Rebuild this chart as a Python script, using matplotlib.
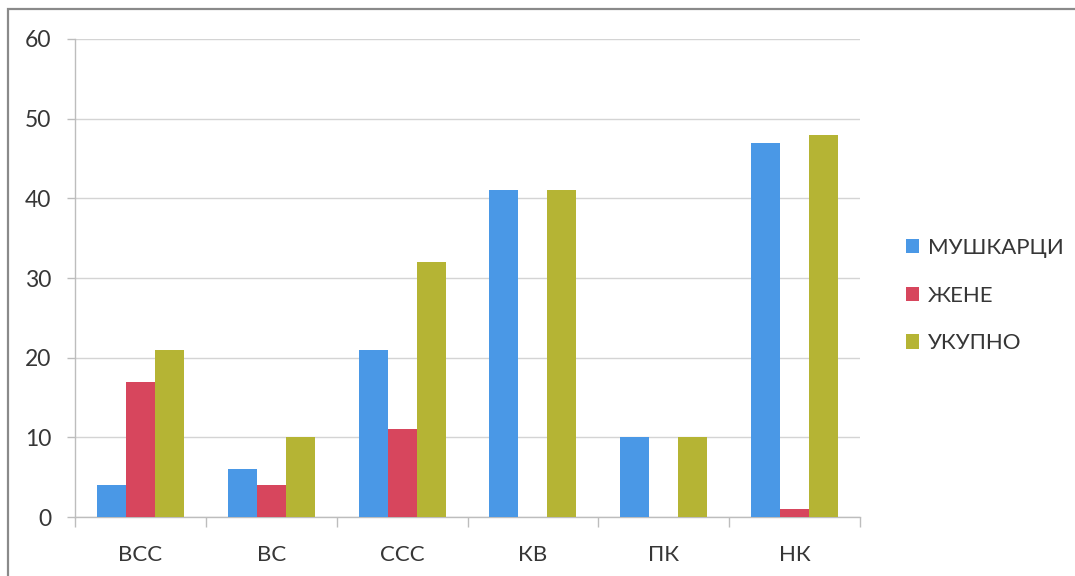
import matplotlib
matplotlib.use("Agg")
import matplotlib.pyplot as plt
from matplotlib.patches import Rectangle
import numpy as np

categories = ["ВСС", "ВС", "ССС", "КВ", "ПК", "НК"]
series_names = ["МУШКАРЦИ", "ЖЕНЕ", "УКУПНО"]
men = [4, 6, 21, 41, 10, 47]
women = [17, 4, 11, 0, 0, 1]
total = [21, 10, 32, 41, 10, 48]
y_ticks = [0, 10, 20, 30, 40, 50, 60]

colors = ["#4A98E6", "#D7465D", "#B5B434"]
text_color = "#363636"
grid_color = "#d4d4d4"

plt.rcParams["font.family"] = ["Lato", "DejaVu Sans"]

fig = plt.figure(figsize=(10.75, 5.76), dpi=100)
ax = fig.add_axes([0.0698, 0.1024, 0.7302, 0.8299])

x = np.arange(len(categories)) + 0.5
w = 0.222
for k, (vals, name) in enumerate(zip([men, women, total], series_names)):
    ax.bar(x + (k - 1) * w, vals, width=w, color=colors[k], label=name,
           zorder=3, linewidth=0)

ax.set_xlim(0, len(categories))
ax.set_ylim(0, 60)
ax.set_yticks(y_ticks)
ax.set_yticklabels([str(v) for v in y_ticks], fontsize=16.5, color=text_color)
ax.yaxis.grid(True, color=grid_color, linewidth=1.0, zorder=0)

# category boundaries carry the tick marks, centers carry the labels
ax.set_xticks(np.arange(len(categories) + 1))
ax.set_xticklabels([])
ax.set_xticks(x, minor=True)
ax.set_xticklabels(categories, minor=True, fontsize=16, color=text_color)
ax.tick_params(axis="x", which="major", length=7, color="#bdbdbd", width=1)
ax.tick_params(axis="x", which="minor", length=0, pad=20)
ax.tick_params(axis="y", length=6, color="#bdbdbd", width=1, pad=11)

for side in ["top", "right"]:
    ax.spines[side].set_visible(False)
for side in ["left", "bottom"]:
    ax.spines[side].set_color("#bdbdbd")
    ax.spines[side].set_linewidth(1)

leg = fig.legend(loc="upper left", bbox_to_anchor=(0.824, 0.622),
                 frameon=False, fontsize=16, handlelength=0.6,
                 handleheight=0.6, handletextpad=0.4, labelspacing=1.25)
for t in leg.get_texts():
    t.set_color(text_color)

# outer chart frame (runs past the right and bottom edges)
fig.patches.append(Rectangle((0.0072, -0.05), 1.1, 1.035,
                             transform=fig.transFigure, fill=False,
                             edgecolor="#8a8a8a", linewidth=1.6))

fig.savefig("out.png", dpi=100, facecolor="white")
